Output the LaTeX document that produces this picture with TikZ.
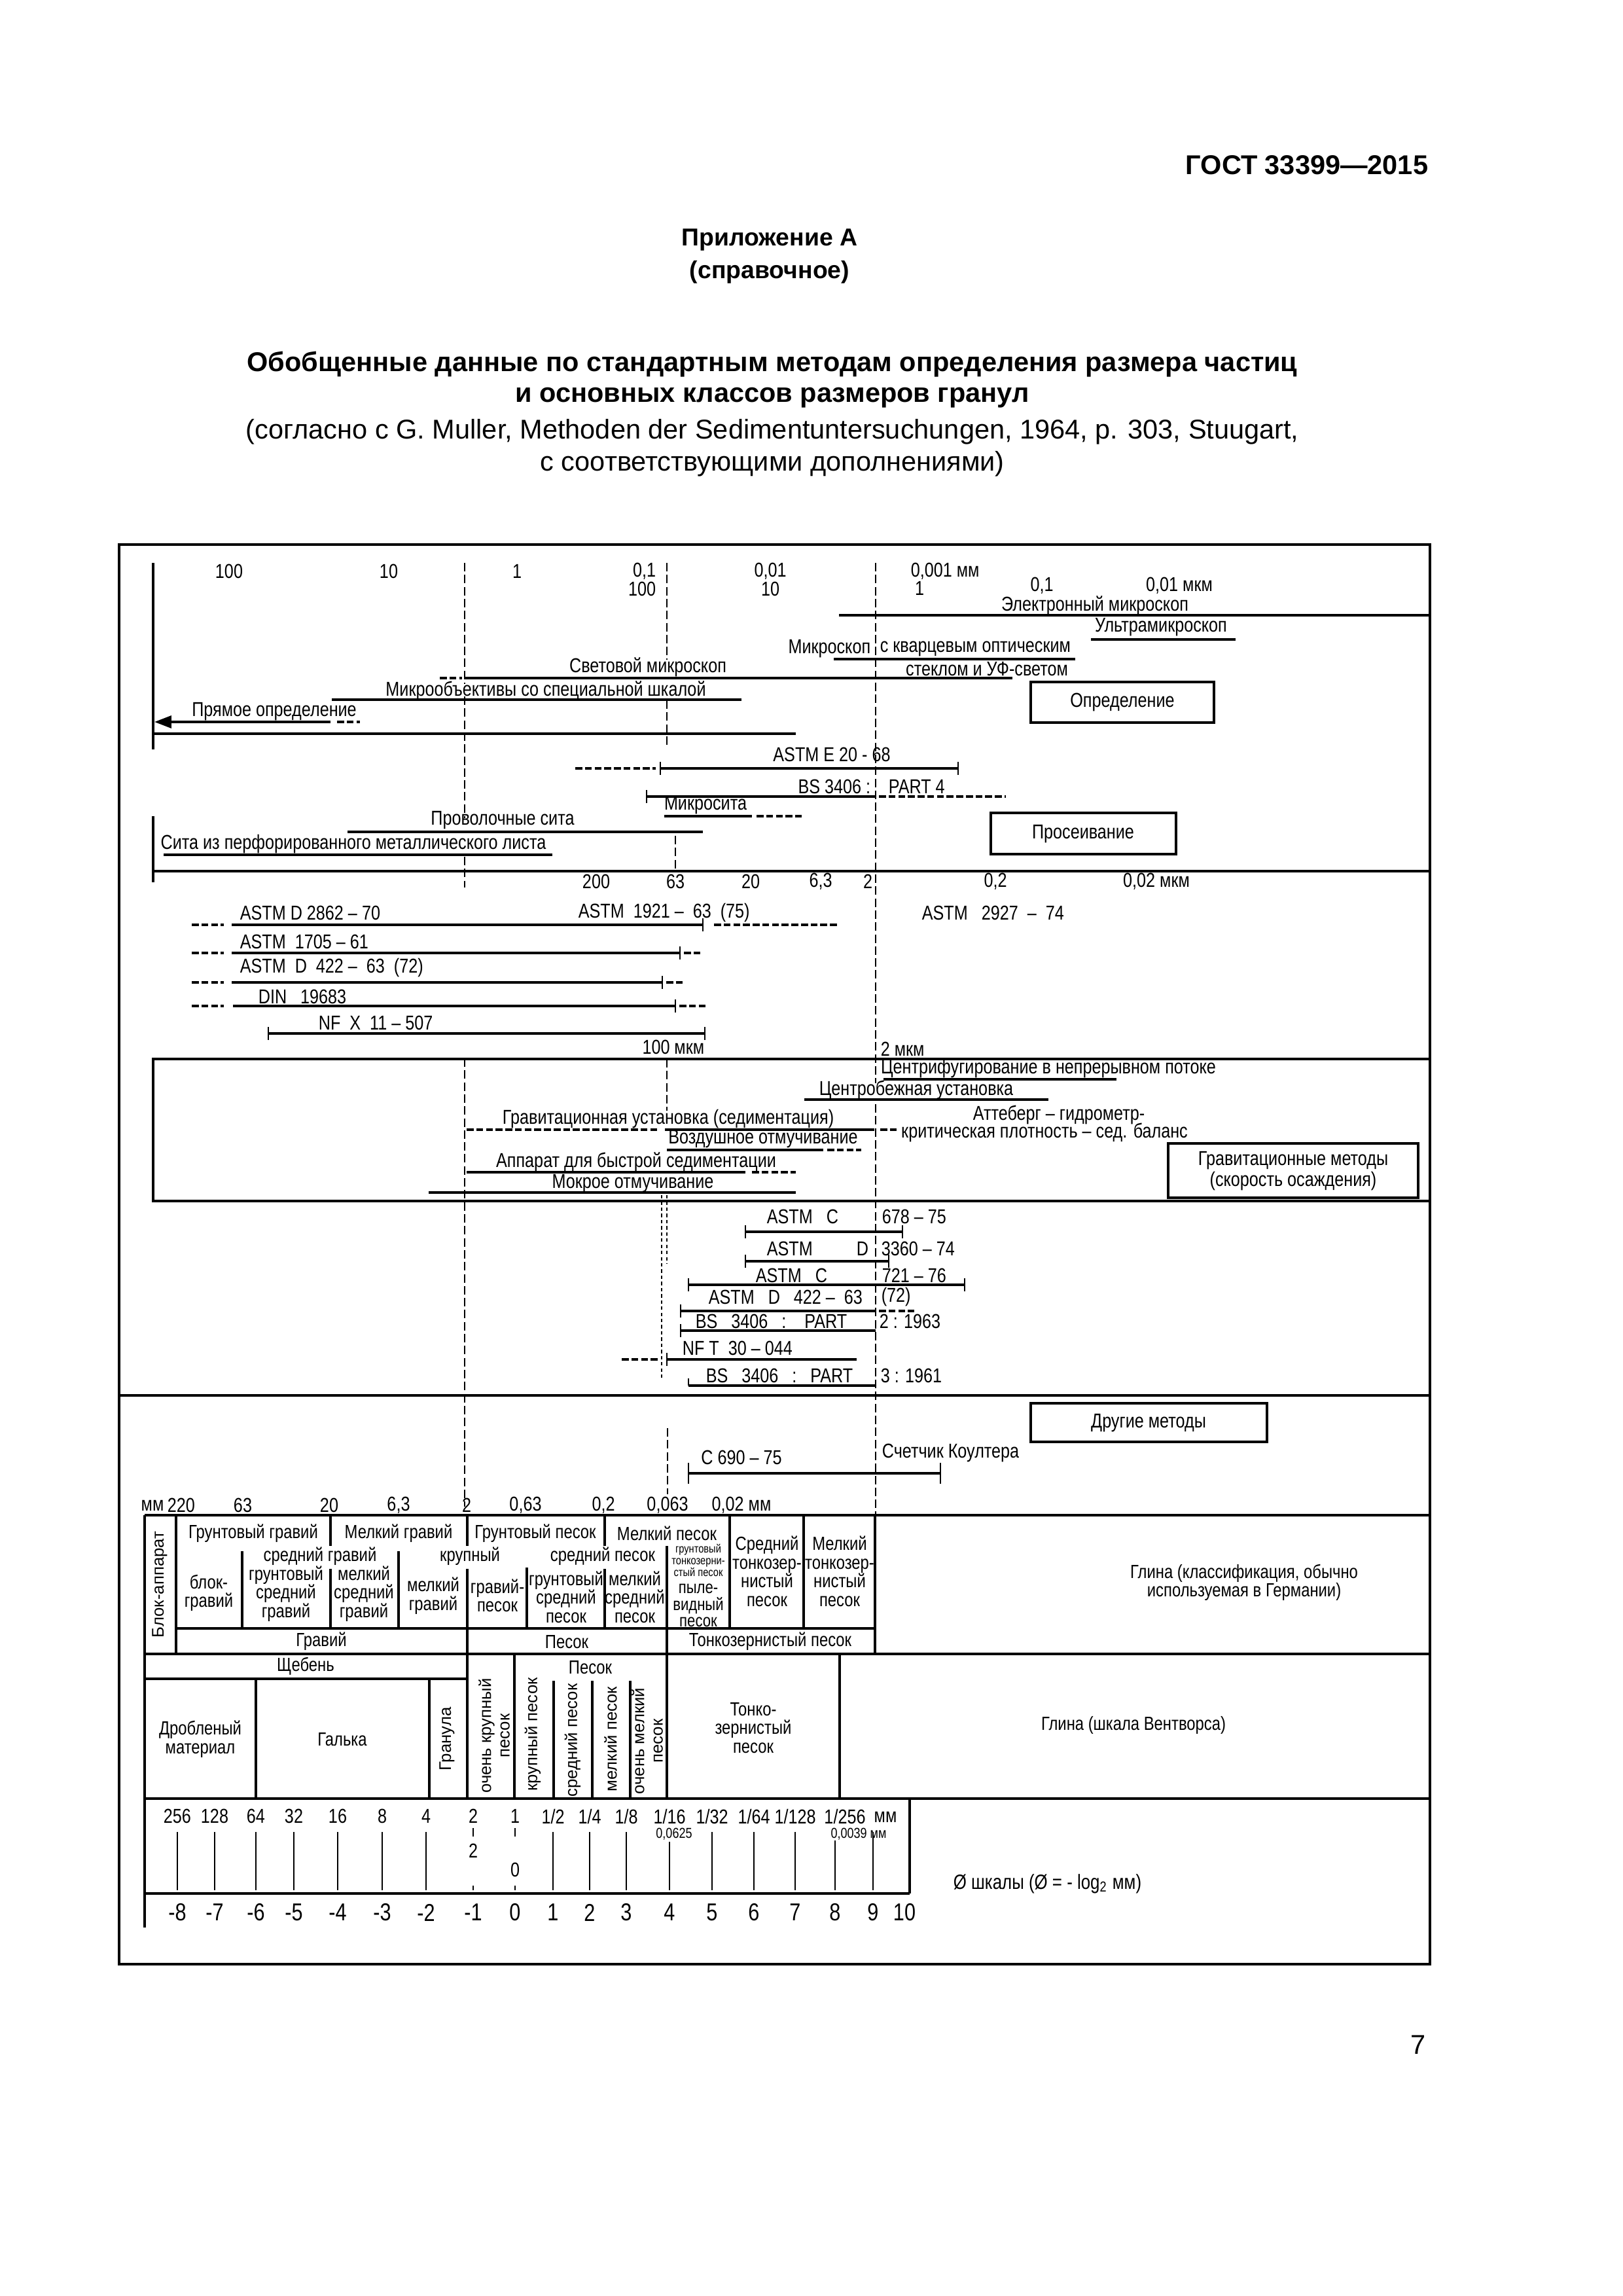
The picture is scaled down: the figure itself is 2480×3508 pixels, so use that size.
\documentclass[tikz,border=0pt]{standalone}
\usepackage{fontspec}
\setmainfont{Liberation Sans}
\newfontfamily\nar[FakeStretch=0.82]{Liberation Sans}
\usetikzlibrary{arrows.meta}
\begin{document}
\begin{tikzpicture}[x=0.0846667mm,y=-0.0846667mm,
 t/.style={font=\nar\fontsize{7.4}{7.6}\selectfont, inner sep=0pt},
 ts/.style={font=\nar\fontsize{7}{6.9}\selectfont, inner sep=0pt, align=center},
 tt/.style={font=\nar\fontsize{4.3}{4.4}\selectfont, inner sep=0pt, align=center},
 tr/.style={font=\fontsize{6.2}{6.8}\selectfont, inner sep=0pt, align=center, rotate=90},
 hd/.style={font=\bfseries\fontsize{10}{12}\selectfont, inner sep=0pt},
 hn/.style={font=\fontsize{10}{12}\selectfont, inner sep=0pt},
 frm/.style={line width=0.35mm},
 grid/.style={line width=0.3mm},
 rng/.style={line width=0.3mm},
 rngd/.style={line width=0.3mm, dash pattern=on 0.9mm off 0.35mm},
 dsh/.style={line width=0.2mm, dash pattern=on 1.1mm off 0.45mm},
 dot/.style={line width=0.25mm, dash pattern=on 0.45mm off 0.35mm},
 tk/.style={line width=0.22mm},
 bx/.style={line width=0.3mm}]
\useasboundingbox (0,0) rectangle (2480,3508);
\fill[white] (0,0) rectangle (2480,3508);
\newcommand\tck[2]{\draw[tk] (#1,#2-10) -- (#1,#2+10);}
% ---------- page header ----------
\node[hd,anchor=east,font=\bfseries\fontsize{10}{12}\selectfont] (gost) at (2183,252) {ГОСТ 33399—2015};
\node[hd,font=\bfseries\fontsize{9}{11}\selectfont] (pril) at (1176,367) {Приложение А};
\node[hd,font=\bfseries\fontsize{9}{11}\selectfont] (spr) at (1176,416) {(справочное)};
\node[hd] (ti1) at (1180,557) {Обобщенные данные по стандартным методам определения размера частиц};
\node[hd] (ti2) at (1180,608) {и основных классов размеров гранул};
\node[hn] (ti3) at (1180,660) {(согласно с G. Muller, Methoden der Sedimentuntersuchungen, 1964, p. 303, Stuugart,};
\node[hn] (ti4) at (1180,709) {с соответствующими дополнениями)};
\node[hn] (pg) at (2167,3124) {7};
% ---------- frame ----------
\draw[frm] (182,832) rectangle (2185,3001);
% ---------- dashed verticals ----------
\draw[dsh] (710,860) -- (710,1045);
\draw[dsh] (710,1064) -- (710,1250);
\draw[dsh] (710,1309) -- (710,1356);
\draw[dsh] (710,1617) -- (710,2302);
\draw[dsh] (1019,860) -- (1019,1008);
\draw[dsh] (1019,1070) -- (1019,1142);
\draw[dsh] (1338,860) -- (1338,1655);
\draw[dsh] (1338,1687) -- (1338,2314);
\draw[dsh] (1032,1277) -- (1032,1331);
\draw[dsh] (1019,1618) -- (1019,1697);
\draw[dot] (1011,1826) -- (1011,2107);
\draw[dot] (1019,1826) -- (1019,1930);
\draw[dsh] (1020,2182) -- (1020,2283);
% ---------- Определение ----------
\draw[grid] (234,860) -- (234,1145);
\draw[grid] (234,1247) -- (234,1348);
\node[t] (n100) at (350,873) {100};
\node[t] (n10) at (594,873) {10};
\node[t] (n1) at (790,873) {1};
\node[t,anchor=east] (n01) at (1003,873) {0,1};
\node[t,anchor=east] (n100b) at (1003,900) {100};
\node[t] (n001) at (1177,873) {0,01};
\node[t] (n10b) at (1177,900) {10};
\node[t,anchor=west] (n0001) at (1391,873) {0,001 мм};
\node[t] (n1b) at (1405,899) {1};
\node[t] (n01b) at (1592,895) {0,1};
\node[t] (n001b) at (1802,895) {0,01 мкм};
\node[t] (elm) at (1673,925) {Электронный микроскоп};
\draw[rng] (1282,940) -- (2185,940);
\node[t] (ulm) at (1774,958) {Ультрамикроскоп};
\draw[rng] (1667,977) -- (1888,977);
\node[t,anchor=east] (mkq) at (1331,991) {Микроскоп};
\node[t,anchor=west] (mkq2) at (1344,991) {с кварцевым оптическим};
\draw[rng] (1274,1007) -- (1643,1007);
\node[t] (uf) at (1508,1022) {стеклом и УФ-светом};
\node[t] (svm) at (990,1019) {Световой микроскоп};
\draw[rngd] (672,1036) -- (706,1036);
\draw[rng] (710,1036) -- (1547,1036);
\node[t] (mob) at (834,1055) {Микрообъективы со специальной шкалой};
\draw[rng] (507,1069) -- (1133,1069);
\node[t] (prm) at (419,1087) {Прямое определение};
\draw[rng,-{Triangle[length=2.2mm,width=1.6mm]}] (505,1103) -- (236,1103);
\draw[rngd] (515,1103) -- (550,1103);
\draw[grid] (234,1121) -- (1216,1121);
\draw[bx] (1575,1042) rectangle (1855,1104);
\node[t] (opr) at (1715,1073) {Определение};
% ---------- Просеивание ----------
\node[t] (aste) at (1271,1153) {ASTM E 20 - 68};
\draw[rngd] (879,1174) -- (1002,1174);
\draw[rng] (1009,1174) -- (1464,1174);
\tck{1009}{1174} \tck{1464}{1174}
\node[t,anchor=east] (bs4a) at (1331,1202) {BS 3406 :};
\node[t,anchor=west] (bs4b) at (1357,1202) {PART 4};
\draw[rng] (988,1217) -- (1338,1217);
\tck{988}{1217}
\draw[rngd] (1343,1217) -- (1537,1217);
\node[t] (mks) at (1078,1230) {Микросита};
\draw[rng] (1015,1247) -- (1149,1247);
\draw[rngd] (1156,1247) -- (1225,1247);
\node[t] (prs) at (768,1253) {Проволочные сита};
\draw[rng] (531,1271) -- (1074,1271);
\node[t] (sps) at (540,1290) {Сита из перфорированного металлического листа};
\draw[rng] (250,1306) -- (844,1306);
\draw[bx] (1514,1242) rectangle (1797,1305);
\node[t] (pros) at (1655,1274) {Просеивание};
\draw[grid] (234,1331) -- (2185,1331);
% ---------- ASTM sieve standards ----------
\node[t] (m200) at (911,1347) {200};
\node[t] (m63) at (1032,1347) {63};
\node[t] (m20) at (1147,1347) {20};
\node[t] (m63b) at (1254,1347) {6,3};
\node[t] (m2) at (1326,1347) {2};
\node[t] (m02) at (1521,1347) {0,2};
\node[t] (m002) at (1767,1347) {0,02 мкм};
\node[t,anchor=west] (s1a) at (366,1395) {ASTM D 2862 – 70};
\node[t,anchor=west] (s1b) at (883,1395) {ASTM~~1921 – ~63~~(75)};
\node[t,anchor=west] (s1c) at (1408,1395) {ASTM~~~2927~~–~~74};
\draw[rngd] (293,1413) -- (342,1413);
\draw[rng] (354,1413) -- (1074,1413); \tck{1074}{1413}
\draw[rngd] (1091,1413) -- (1282,1413);
\node[t,anchor=west] (s2) at (366,1439) {ASTM~~1705 – 61};
\draw[rngd] (293,1456) -- (342,1456);
\draw[rng] (354,1456) -- (1039,1456); \tck{1039}{1456}
\draw[rngd] (1045,1456) -- (1072,1456);
\node[t,anchor=west] (s3) at (366,1479) {ASTM~~D~~422 – ~63~~(72)};
\draw[rngd] (293,1501) -- (342,1501);
\draw[rng] (354,1501) -- (1012,1501); \tck{1012}{1501}
\draw[rngd] (1018,1501) -- (1046,1501);
\node[t,anchor=west] (s4) at (394,1523) {DIN~~~19683};
\draw[rngd] (293,1537) -- (342,1537);
\draw[rng] (356,1537) -- (1032,1537); \tck{1032}{1537}
\draw[rngd] (1038,1537) -- (1082,1537);
\node[t,anchor=west] (s5) at (486,1563) {NF~~X~~11 – 507};
\draw[rng] (410,1579) -- (1077,1579); \tck{410}{1579} \tck{1077}{1579}
\node[t,anchor=east] (m100) at (1077,1600) {100 мкм};
\node[t,anchor=west] (m2mk) at (1345,1603) {2 мкм};
% ---------- Гравитационные методы ----------
\draw[grid] (234,1618) rectangle (2185,1835);
\node[t] (cfn) at (1602,1633) {Центрифугирование в непрерывном потоке};
\draw[rng] (1350,1649) -- (1706,1649);
\node[t] (cbu) at (1400,1665) {Центробежная установка};
\draw[rng] (1229,1680) -- (1602,1680);
\node[t] (gru) at (1021,1710) {Гравитационная установка (седиментация)};
\draw[rngd] (713,1726) -- (1006,1726);
\draw[rng] (1016,1726) -- (1336,1726);
\draw[rngd] (1345,1726) -- (1370,1726);
\node[t] (att) at (1618,1703) {Аттеберг – гидрометр-};
\node[t] (krp) at (1596,1730) {критическая плотность – сед. баланс};
\node[t] (vzo) at (1166,1740) {Воздушное отмучивание};
\draw[rng] (1019,1757) -- (1258,1757);
\draw[rngd] (1264,1757) -- (1316,1757);
\node[t] (apb) at (972,1775) {Аппарат для быстрой седиментации};
\draw[rng] (713,1791) -- (1139,1791);
\draw[rngd] (1149,1791) -- (1216,1791);
\node[t] (mko) at (967,1808) {Мокрое отмучивание};
\draw[rng] (655,1822) -- (1216,1822);
\draw[bx] (1785,1747) rectangle (2167,1830);
\node[t,align=center] (grm) at (1976,1789) {Гравитационные методы\\(скорость осаждения)};
% ---------- sedimentation standards ----------
\node[t,anchor=west] (c1a) at (1171,1859) {ASTM~~~C};
\node[t,anchor=west] (c1b) at (1347,1859) {678 – 75};
\draw[rng] (1139,1882) -- (1379,1882); \tck{1139}{1882} \tck{1379}{1882}
\node[t,anchor=west] (c2a) at (1171,1908) {ASTM};
\node[t,anchor=east] (c2b) at (1328,1908) {D};
\node[t,anchor=west] (c2c) at (1346,1908) {3360 – 74};
\draw[rng] (1139,1927) -- (1358,1927); \tck{1139}{1927} \tck{1358}{1927}
\node[t,anchor=west] (c3a) at (1154,1949) {ASTM~~~C};
\node[t,anchor=west] (c3b) at (1347,1949) {721 – 76};
\draw[rng] (1052,1963) -- (1474,1963); \tck{1052}{1963} \tck{1474}{1963}
\node[t,anchor=west] (c4a) at (1082,1982) {ASTM~~~D~~~422 – ~63};
\node[t,anchor=west] (c4b) at (1346,1982) {(72)};
\draw[rng] (1040,2003) -- (1338,2003); \tck{1040}{2003}
\draw[rngd] (1343,2003) -- (1397,2003);
\node[t,anchor=west] (c5a) at (1062,2019) {BS~~~3406~~~:~~~~PART};
\node[t,anchor=west] (c5b) at (1343,2019) {2 : 1963};
\draw[rng] (1040,2033) -- (1338,2033); \tck{1040}{2033}
\node[t,anchor=west] (c6) at (1042,2060) {NF T~~30 – 044};
\draw[rngd] (950,2077) -- (1008,2077);
\draw[rng] (1019,2077) -- (1309,2077); \tck{1019}{2077}
\node[t,anchor=west] (c7a) at (1078,2102) {BS~~~3406~~~:~~~PART};
\node[t,anchor=west] (c7b) at (1345,2102) {3 : 1961};
\draw[rng] (1052,2117) -- (1338,2117);
\draw[tk] (1052,2106) -- (1052,2117);
\draw[grid] (182,2132) -- (2185,2132);
% ---------- Другие методы ----------
\draw[bx] (1575,2144) rectangle (1936,2203);
\node[t] (drm) at (1755,2174) {Другие методы};
\node[t] (c690) at (1133,2227) {C 690 – 75};
\node[t,anchor=west] (kou) at (1347,2220) {Счетчик Коултера};
\draw[rng] (1052,2251) -- (1437,2251);
\draw[tk] (1052,2235) -- (1052,2267);
\draw[tk] (1437,2235) -- (1437,2267);
\foreach \x/\l [count=\i] in {233/мм,277/220,371/63,503/20,609/{6,3},713/2,803/{0,63},922/{0,2},1020/{0,063},1133/{0,02 мм}}
  {\node[t] (mm\i) at (\x,2300) {\l};}
% ---------- upper classification table ----------
\draw[grid] (221,2315) -- (2185,2315);
\draw[grid] (221,2315) -- (221,2945);
\draw[grid] (269,2315) -- (269,2527);
\draw[grid] (370,2370) -- (370,2488);
\draw[grid] (505,2315) -- (505,2362);
\draw[grid] (505,2397) -- (505,2488);
\draw[grid] (609,2370) -- (609,2488);
\draw[grid] (714,2315) -- (714,2362);
\draw[grid] (714,2397) -- (714,2748);
\draw[grid] (805,2395) -- (805,2488);
\draw[grid] (924,2315) -- (924,2362);
\draw[grid] (924,2397) -- (924,2488);
\draw[grid] (1019,2362) -- (1019,2748);
\draw[grid] (1115,2315) -- (1115,2488);
\draw[grid] (1228,2315) -- (1228,2488);
\draw[grid] (1337,2315) -- (1337,2527);
\draw[grid] (269,2488) -- (1337,2488);
\draw[grid] (221,2527) -- (2185,2527);
\node[tr] (blk) at (244,2421) {Блок-аппарат};
\node[ts] (u1) at (387,2343) {Грунтовый гравий};
\node[ts] (u2) at (609,2343) {Мелкий гравий};
\node[ts] (u3) at (818,2343) {Грунтовый песок};
\node[ts] (u4) at (1019,2343) {Мелкий песок};
\node[ts] (u5) at (1172,2401) {Средний\\тонкозер-\\нистый\\песок};
\node[ts] (u6) at (1283,2401) {Мелкий\\тонкозер-\\нистый\\песок};
\node[ts] (u7) at (489,2378) {средний гравий};
\node[ts] (u8) at (718,2378) {крупный};
\node[ts] (u9) at (921,2378) {средний песок};
\node[tt] (u10) at (1067,2384) {грунтовый\\тонкозерни-\\стый песок};
\node[ts,font=\nar\fontsize{6.5}{6.1}\selectfont] (u11) at (1067,2453) {пыле-\\видный\\песок};
\node[ts] (u12) at (319,2434) {блок-\\гравий};
\node[ts] (u13) at (437,2435) {грунтовый\\средний\\гравий};
\node[ts] (u14) at (556,2435) {мелкий\\средний\\гравий};
\node[ts] (u15) at (662,2438) {мелкий\\гравий};
\node[ts] (u16) at (760,2438) {гравий-\\песок};
\node[ts] (u17) at (865,2440) {грунтовый\\средний\\песок};
\node[ts] (u18) at (970,2440) {мелкий\\средний\\песок};
\node[ts] (u19) at (491,2508) {Гравий};
\node[ts] (u20) at (866,2509) {Песок};
\node[ts] (u21) at (1177,2508) {Тонкозернистый песок};
\node[ts] (u22) at (1901,2418) {Глина (классификация, обычно\\используемая в Германии)};
% ---------- lower (Wentworth) table ----------
\draw[grid] (221,2565) -- (714,2565);
\draw[grid] (391,2565) -- (391,2748);
\draw[grid] (656,2565) -- (656,2748);
\draw[grid] (786,2527) -- (786,2748);
\draw[grid] (846,2568) -- (846,2748);
\draw[grid] (905,2568) -- (905,2748);
\draw[grid] (963,2568) -- (963,2748);
\draw[grid] (1283,2527) -- (1283,2748);
\draw[grid] (221,2748) -- (2185,2748);
\node[ts] (w1) at (467,2546) {Щебень};
\node[ts] (w2) at (902,2548) {Песок};
\node[ts] (w3) at (306,2657) {Дробленый\\материал};
\node[ts] (w4) at (523,2658) {Галька};
\node[tr] (w5) at (683,2657) {Гранула};
\node[tr] (w6) at (755,2652) {очень крупный\\песок};
\node[tr] (w7) at (814,2650) {крупный песок};
\node[tr] (w8) at (875,2659) {средний песок};
\node[tr] (w9) at (933,2657) {мелкий песок};
\node[tr] (w10) at (989,2660) {очень мелкий\\песок};
\node[ts] (w11) at (1151,2640) {Тонко-\\зернистый\\песок};
\node[ts] (w12) at (1732,2636) {Глина (шкала Вентворса)};
% ---------- phi scale ----------
\draw[grid] (1390,2748) -- (1390,2893);
\draw[grid] (221,2893) -- (1390,2893);
\foreach \x/\l [count=\i] in {271/256,328/128,391/64,449/32,516/16,584/8,651/4,723/2,787/1,845/{1/2},901/{1/4},957/{1/8},1023/{1/16},1088/{1/32},1152/{1/64},1215/{1/128},1291/{1/256}}
  {\node[t] (mt\i) at (\x,2775) {\l};}
\node[t] (mtmm) at (1353,2776) {мм};
\foreach \x in {271,328,391,449,516,584,651,845,901,957,1088,1152,1215,1334}
  {\draw[tk] (\x,2799) -- (\x,2888);}
\draw[tk] (1023,2814) -- (1023,2888);
\draw[tk] (1276,2812) -- (1276,2888);
\draw[tk] (723,2793) -- (723,2806);
\draw[tk] (723,2881) -- (723,2888);
\draw[tk] (787,2793) -- (787,2806);
\draw[tk] (787,2881) -- (787,2888);
\node[t] (sc2) at (723,2828) {2};
\node[t] (sc0) at (787,2857) {0};
\node[font=\nar\fontsize{5.3}{6}\selectfont, inner sep=0pt] (s0625) at (1030,2802) {0,0625};
\node[font=\nar\fontsize{5.3}{6}\selectfont, inner sep=0pt] (s0039) at (1312,2802) {0,0039 мм};
\foreach \x/\l [count=\i] in {271/-8,328/-7,391/-6,449/-5,516/-4,584/-3,651/-2,723/-1,787/0,845/1,901/2,957/3,1023/4,1088/5,1152/6,1215/7,1276/8,1334/9,1382/10}
  {\node[font=\nar\fontsize{9}{10}\selectfont, inner sep=0pt] (ph\i) at (\x,2922) {\l};}
\node[t,anchor=west,font=\nar\fontsize{7.6}{8}\selectfont] (phil) at (1456,2878) {Ø шкалы (Ø = - log\textsubscript{2} мм)};
\end{tikzpicture}
\end{document}
